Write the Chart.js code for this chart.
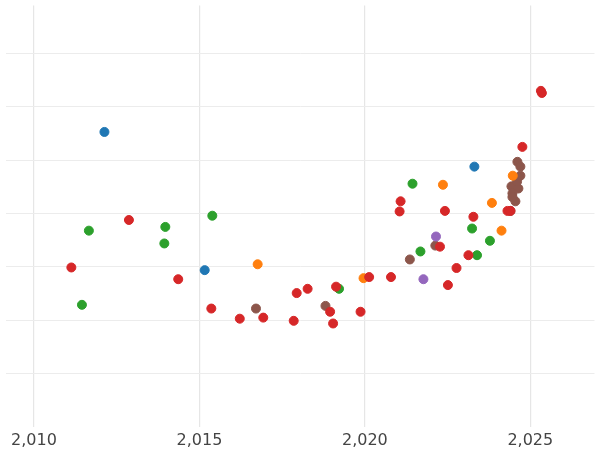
<!DOCTYPE html>
<html><head><meta charset="utf-8">
<script src="https://cdn.jsdelivr.net/npm/chart.js@4"></script>
<style>html,body{margin:0;padding:0;background:#fff}#wrap{width:600px;height:450px}</style>
</head><body><div id="wrap"><canvas id="c"></canvas></div>
<script>
const blueX = [2012.13, 2015.16, 2023.31];
const blueY = [5.53, 2.94, 4.88];
const redX = [2011.13, 2012.87, 2014.36, 2015.36, 2016.22, 2016.93, 2017.85, 2017.94, 2018.27, 2018.95, 2019.04, 2019.13, 2019.87, 2020.13, 2020.79, 2021.05, 2021.08, 2022.27, 2022.42, 2022.51, 2022.77, 2023.13, 2023.28, 2024.31, 2024.76, 2025.32, 2025.35, 2024.4];
const redY = [2.99, 3.88, 2.77, 2.22, 2.03, 2.05, 1.99, 2.51, 2.59, 2.16, 1.94, 2.63, 2.16, 2.81, 2.81, 4.04, 4.23, 3.38, 4.05, 2.66, 2.98, 3.22, 3.94, 4.05, 5.25, 6.30, 6.26, 4.05];
const greenX = [2011.45, 2011.66, 2013.94, 2013.97, 2015.39, 2019.22, 2021.44, 2021.68, 2023.24, 2023.39, 2023.78];
const greenY = [2.29, 3.68, 3.44, 3.75, 3.96, 2.59, 4.56, 3.29, 3.72, 3.22, 3.49];
const orangeX = [2016.76, 2019.96, 2022.36, 2023.84, 2024.13, 2024.47];
const orangeY = [3.05, 2.79, 4.54, 4.20, 3.68, 4.71];
const purpleX = [2021.77, 2022.15];
const purpleY = [2.77, 3.57];
const brownX = [2016.71, 2018.81, 2021.36, 2022.13, 2024.61, 2024.7, 2024.7, 2024.43, 2024.64, 2024.46, 2024.55, 2024.46, 2024.4, 2024.6];
const brownY = [2.22, 2.27, 3.14, 3.40, 4.97, 4.88, 4.71, 4.51, 4.47, 4.38, 4.23, 4.31, 4.05, 4.6];

const pts = (xs, ys) => xs.map((x, i) => ({x: x, y: ys[i]}));
const series = [
    [blueX, blueY, '#1f77b4'], [redX, redY, '#d62728'], [greenX, greenY, '#2ca02c'],
    [orangeX, orangeY, '#ff7f0e'], [purpleX, purpleY, '#9467bd'], [brownX, brownY, '#8c564b']
];

new Chart(document.getElementById('c'), {
    type: 'scatter',
    data: {
        datasets: series.map(s => ({
            data: pts(s[0], s[1]),
            backgroundColor: s[2],
            borderColor: s[2],
            pointRadius: 4.5,
            pointHoverRadius: 4.5
        }))
    },
    options: {
        responsive: true,
        maintainAspectRatio: false,
        animation: false,
        layout: {padding: 0},
        plugins: {legend: {display: false}, tooltip: {enabled: false}},
        scales: {
            x: {
                type: 'linear', min: 2009.14, max: 2026.94,
                afterBuildTicks: a => { a.ticks = [2010, 2015, 2020, 2025].map(v => ({value: v})); },
                afterFit: a => { a.height = 23; },
                ticks: {color: '#444', font: {family: 'DejaVu Sans', size: 16}, padding: 4, maxRotation: 0},
                grid: {color: '#e6e6e6', lineWidth: 1.2, drawTicks: false},
                border: {display: false}
            },
            y: {
                min: 0, max: 7.9,
                afterBuildTicks: a => { a.ticks = [1, 2, 3, 4, 5, 6, 7].map(v => ({value: v})); },
                afterFit: a => { a.width = 0; },
                ticks: {display: false},
                grid: {color: '#ececec', lineWidth: 1, drawTicks: false},
                border: {display: false}
            }
        }
    }
});
</script></body></html>
